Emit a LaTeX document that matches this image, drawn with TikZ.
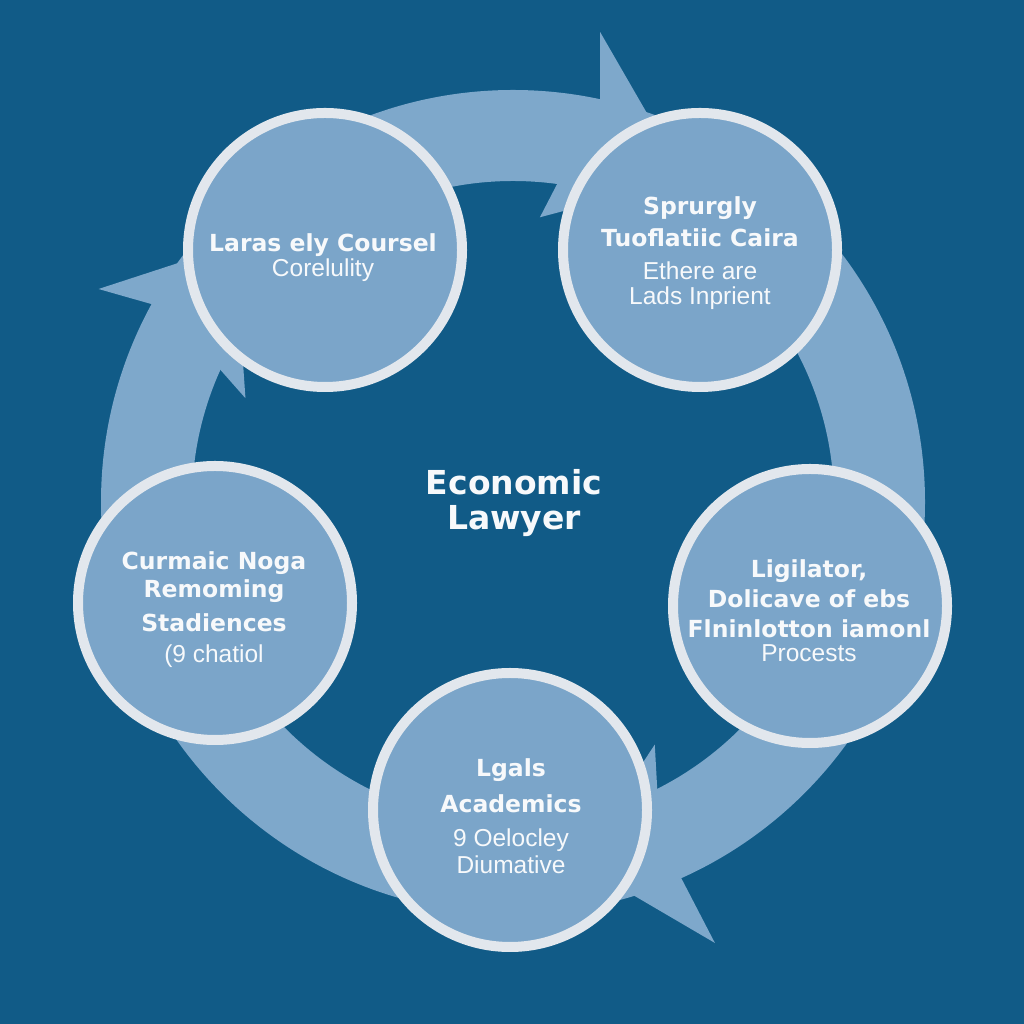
\documentclass[tikz,border=0pt]{standalone}
\usepackage{fontspec}
\setmainfont{Liberation Sans}
\newfontfamily\boldfam{DejaVu Sans}
\definecolor{bgblue}{HTML}{115B87}
\definecolor{bandblue}{HTML}{7EA8CB}
\definecolor{bubblefill}{HTML}{7BA5C9}
\definecolor{ringwhite}{HTML}{E2E7ED}
\definecolor{txtwhite}{HTML}{F7F9FB}
\begin{document}
\begin{tikzpicture}[x=1pt,y=1pt,
  bubble/.style={circle, draw=ringwhite, line width=10pt, fill=bubblefill, minimum size=274pt, inner sep=0pt},
  boldline/.style={text=txtwhite, anchor=base, inner sep=0pt, font=\boldfam\bfseries\fontsize{23.5}{28}\selectfont},
  regline/.style={text=txtwhite, anchor=base, inner sep=0pt, font=\fontsize{24.5}{30}\selectfont},
  centreline/.style={text=txtwhite, anchor=base, inner sep=0pt, font=\boldfam\bfseries\fontsize{33}{40}\selectfont},
  band/.style={fill=bandblue}]
\fill[bgblue] (0,0) rectangle (1024,1024);
\useasboundingbox (0,0) rectangle (1024,1024);
\coordinate (C) at (513,522);
% ring
\fill[band, even odd rule] (C) circle[radius=412] (C) circle[radius=321];
% arrow heads
\begin{scope}[shift={(C)}]
\fill[band] (77.8:412) -- (79.5:478) -- (62:366) -- (84.6:286) -- (82.1:321) -- cycle;
\fill[band] (151.3:412) -- (152.8:466) -- (137.2:379) -- (158.8:287) -- (155.7:321) -- cycle;
\fill[band] (-65.9:412) -- (-65.4:485) -- (-79.9:366) -- (-59.7:281) -- (-63.3:321) -- cycle;
\end{scope}
% bubbles
\node[bubble] (n1) at (325,774) {};
\node[bubble] (n2) at (700,774) {};
\node[bubble] (n3) at (215,421) {};
\node[bubble] (n4) at (810,418) {};
\node[bubble] (n5) at (510,214) {};
% texts
\node[boldline] (t11) at (323,772) {Laras ely Coursel};
\node[regline] (t12) at (323,747) {Corelulity};
\node[boldline] (t21) at (700,809) {Sprurgly};
\node[boldline] (t22) at (700,777) {Tuoflatiic Caira};
\node[regline] (t23) at (700,744) {Ethere are};
\node[regline] (t24) at (700,719) {Lads Inprient};
\node[boldline] (t31) at (214,454) {Curmaic Noga};
\node[boldline] (t32) at (214,426) {Remoming};
\node[boldline] (t33) at (214,392) {Stadiences};
\node[regline] (t34) at (214,361) {(9 chatiol};
\node[boldline] (t41) at (809,446) {Ligilator,};
\node[boldline] (t42) at (809,416) {Dolicave of ebs};
\node[boldline] (t43) at (809,386) {Flninlotton iamonl};
\node[regline] (t44) at (809,362) {Procests};
\node[boldline] (t51) at (511,247) {Lgals};
\node[boldline] (t52) at (511,211) {Academics};
\node[regline] (t53) at (511,177) {9 Oelocley};
\node[regline] (t54) at (511,150) {Diumative};
\node[centreline] (c1) at (514,529) {Economic};
\node[centreline] (c2) at (514,494) {Lawyer};
\end{tikzpicture}
\end{document}
